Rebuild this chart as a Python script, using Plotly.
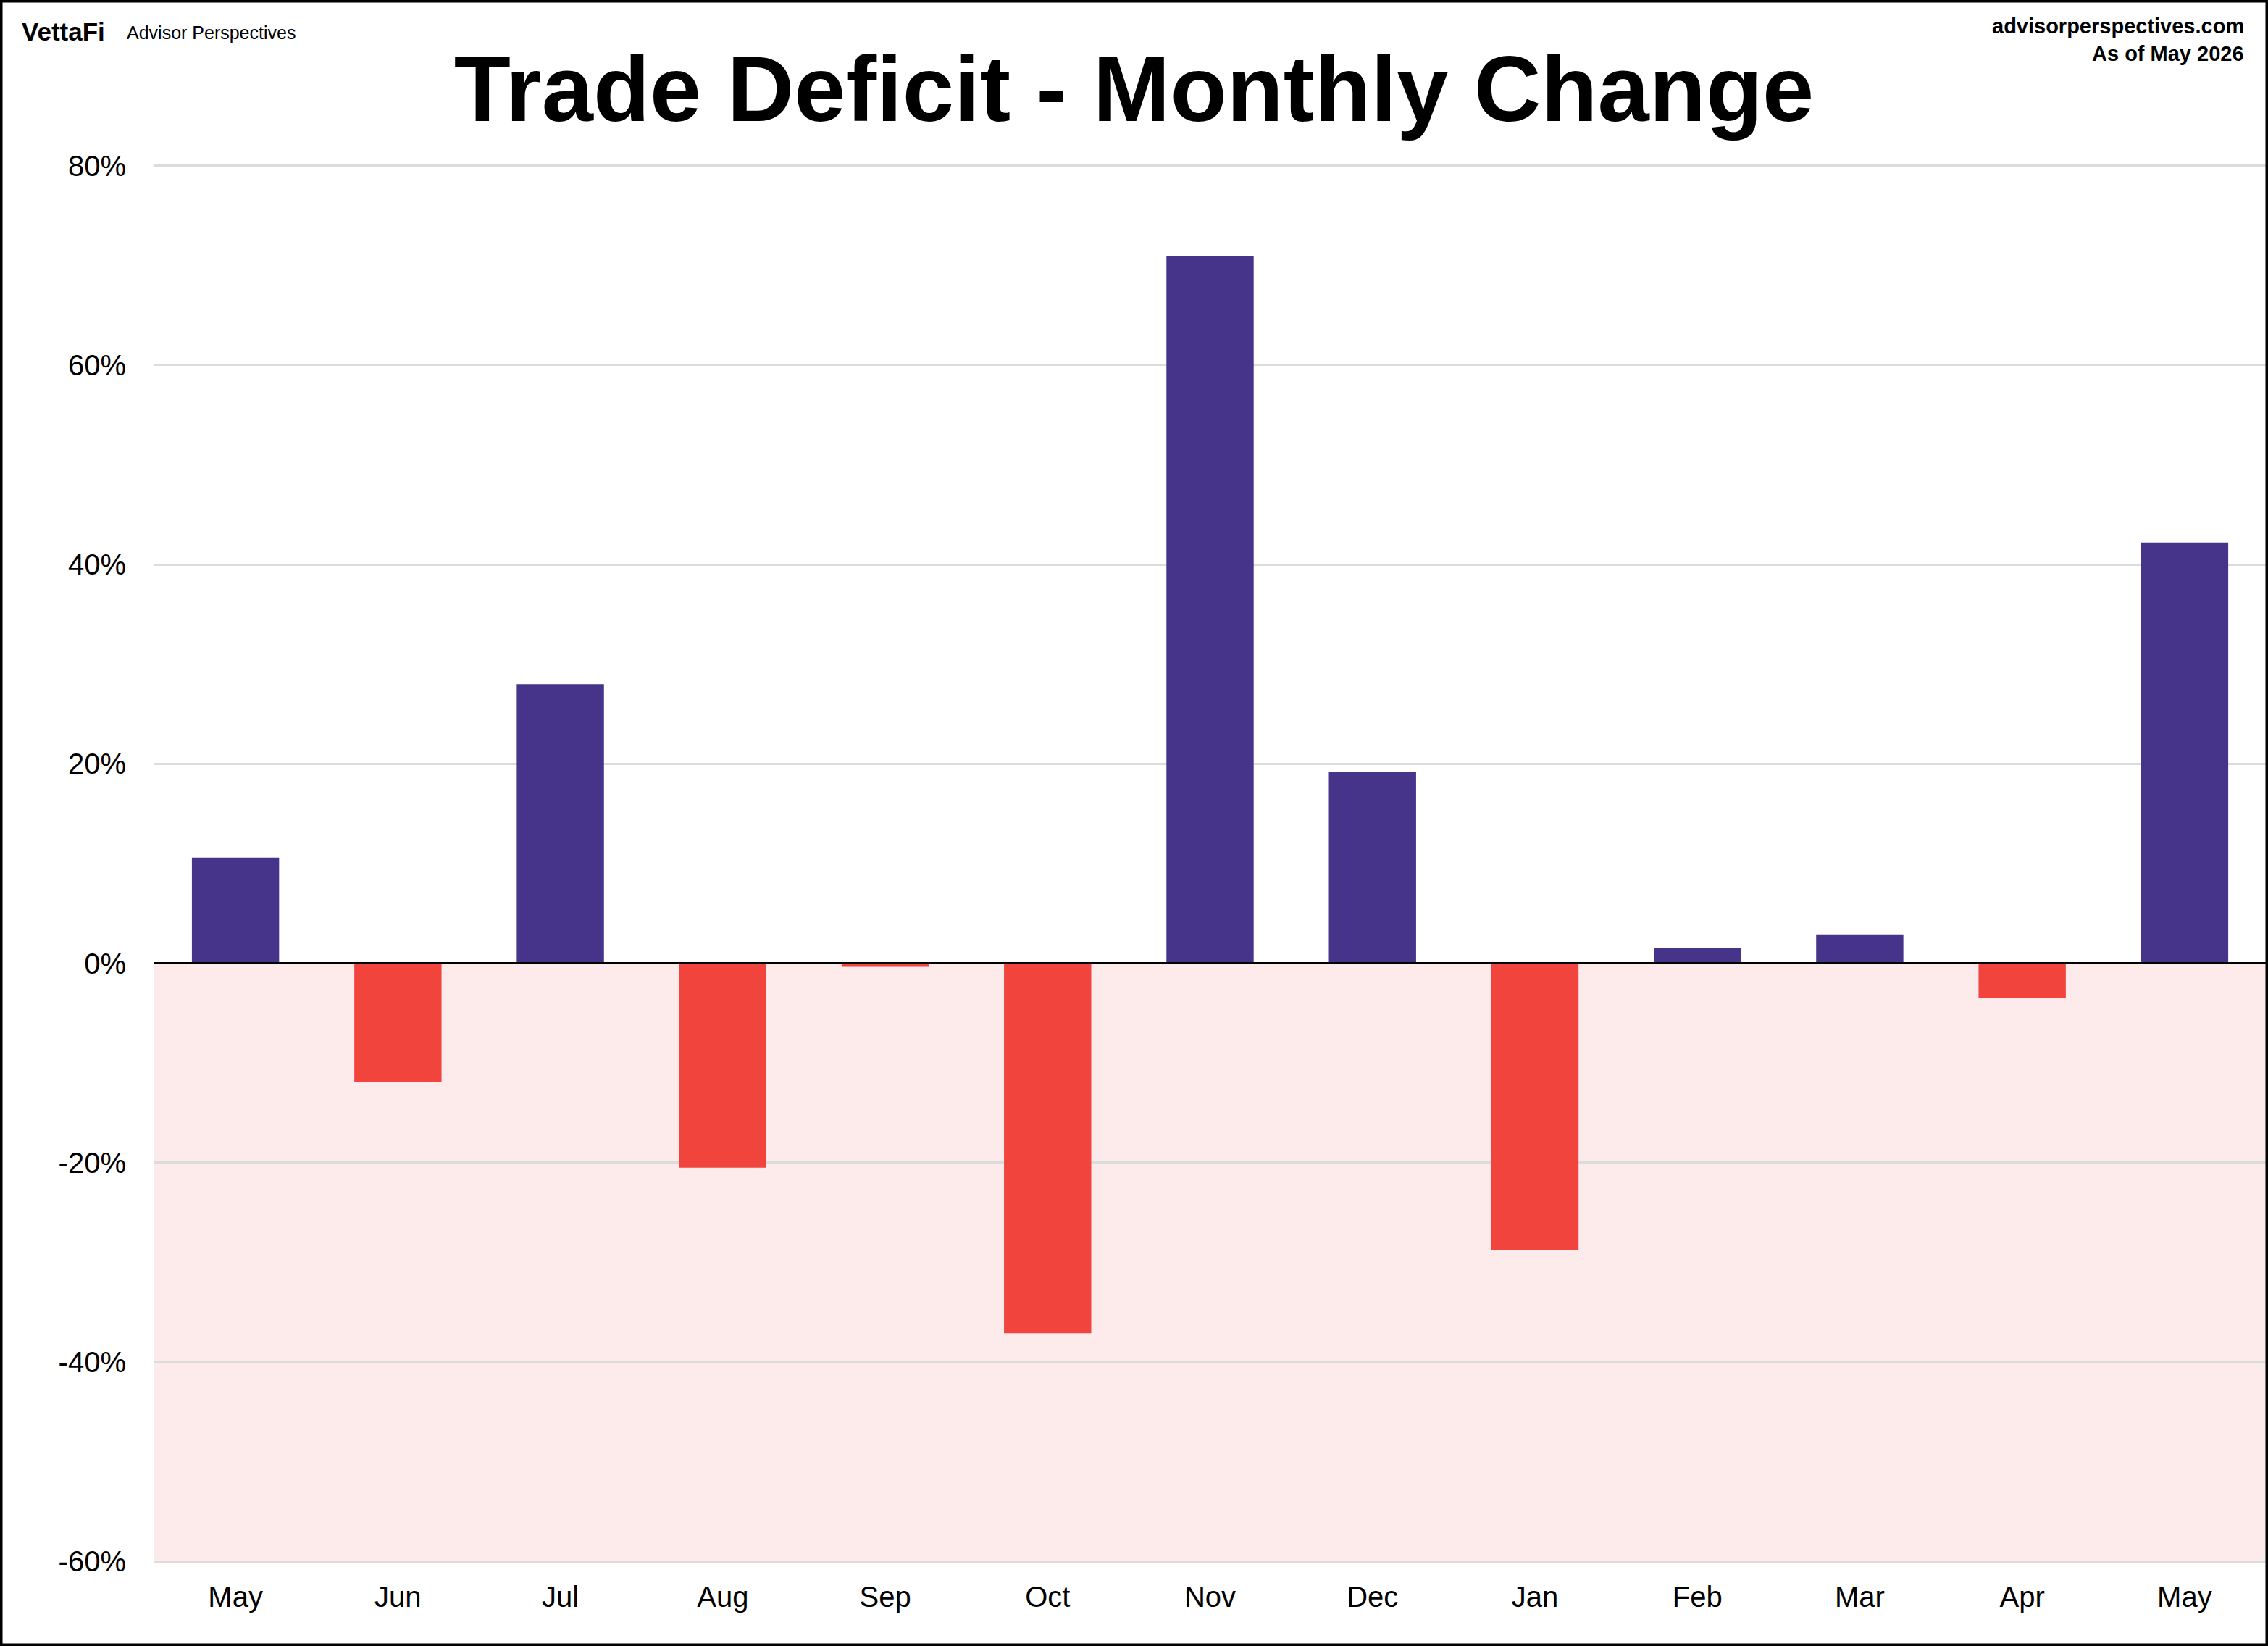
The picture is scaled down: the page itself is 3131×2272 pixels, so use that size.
import plotly.graph_objects as go

months = ["May", "Jun", "Jul", "Aug", "Sep", "Oct", "Nov", "Dec", "Jan", "Feb", "Mar", "Apr", "May"]
change_pct = [10.6, -11.9, 28.0, -20.5, -0.35, -37.1, 70.9, 19.2, -28.8, 1.5, 2.9, -3.5, 42.2]
y_tick_vals = [-60, -40, -20, 0, 20, 40, 60, 80]
y_tick_text = ["-60%", "-40%", "-20%", "0%", "20%", "40%", "60%", "80%"]

POS = "#46338A"
NEG = "#F0443D"
FONT = "Arial, Liberation Sans, sans-serif"

W, H = 3131, 2272
L, R, T, B = 213, 3, 227, 115
PW, PH = W - L - R, H - T - B

x_idx = list(range(len(months)))
colors = [POS if v >= 0 else NEG for v in change_pct]

fig = go.Figure()
fig.add_trace(go.Bar(
    x=x_idx, y=change_pct, marker=dict(color=colors, line=dict(width=0)),
    width=0.537, hoverinfo="skip",
))

shapes = [
    # negative region shading
    dict(type="rect", xref="paper", yref="y", x0=0, x1=1, y0=-60, y1=0,
         fillcolor="#FDEBEB", line=dict(width=0), layer="below"),
    # zero line
    dict(type="line", xref="paper", yref="y", x0=0, x1=1, y0=0, y1=0,
         line=dict(color="black", width=3), layer="above"),
    # outer frame
    dict(type="rect", xref="paper", yref="paper",
         x0=-L / PW, x1=(W - L) / PW, y0=-B / PH, y1=(H - B) / PH,
         line=dict(color="black", width=7), fillcolor="rgba(0,0,0,0)", layer="above"),
]

annotations = [
    dict(text="<b>VettaFi</b>", xref="paper", yref="paper",
         x=(28 - L) / PW, y=(H - B - 44) / PH, xanchor="left", yanchor="middle",
         showarrow=False, font=dict(family=FONT, size=35, color="black")),
    dict(text="Advisor Perspectives", xref="paper", yref="paper",
         x=(173 - L) / PW, y=(H - B - 45) / PH, xanchor="left", yanchor="middle",
         showarrow=False, font=dict(family=FONT, size=25, color="black")),
    dict(text="<b>advisorperspectives.com</b>", xref="paper", yref="paper",
         x=(3100 - L) / PW, y=(H - B - 36) / PH, xanchor="right", yanchor="middle",
         showarrow=False, font=dict(family=FONT, size=29, color="black")),
    dict(text="<b>As of May 2026</b>", xref="paper", yref="paper",
         x=(3100 - L) / PW, y=(H - B - 74) / PH, xanchor="right", yanchor="middle",
         showarrow=False, font=dict(family=FONT, size=29, color="black")),
]

fig.update_layout(
    width=W, height=H,
    margin=dict(l=L, r=R, t=T, b=B, pad=0),
    paper_bgcolor="white", plot_bgcolor="white",
    showlegend=False,
    bargap=0.46,
    title=dict(text="<b>Trade Deficit - Monthly Change</b>", x=0.5, xanchor="center",
               y=1 - 122 / H, yanchor="middle", yref="container",
               font=dict(family=FONT, size=128, color="black")),
    shapes=shapes, annotations=annotations,
    xaxis=dict(
        tickmode="array", tickvals=x_idx, ticktext=months,
        range=[-0.5, len(months) - 0.5],
        showgrid=False, zeroline=False, showline=False,
        ticks="outside", ticklen=12, tickcolor="rgba(0,0,0,0)",
        tickfont=dict(family=FONT, size=40, color="black"),
    ),
    yaxis=dict(
        range=[-60.12, 80.12], tickmode="array", tickvals=y_tick_vals, ticktext=y_tick_text,
        showgrid=True, gridcolor="#DCDCDC", gridwidth=3,
        zeroline=False, showline=False,
        ticks="outside", ticklen=30, tickcolor="rgba(0,0,0,0)",
        tickfont=dict(family=FONT, size=40, color="black"),
    ),
)

fig.write_html("out.html")
